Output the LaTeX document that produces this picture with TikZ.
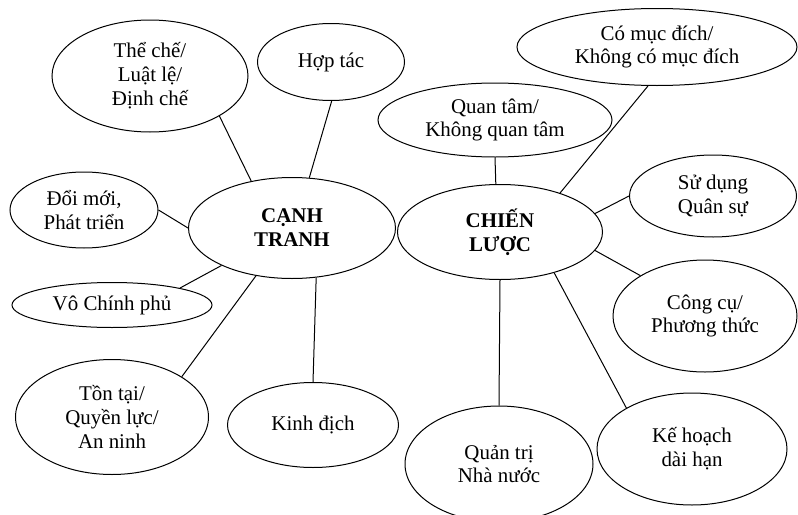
\documentclass[tikz,border=0pt]{standalone}
\usepackage{fontspec}
\setmainfont{Liberation Serif}
\usetikzlibrary{shapes.geometric}

\begin{document}
\begin{tikzpicture}[bubble/.style={draw,ellipse,inner sep=0pt,align=center,line width=1bp,font=\fontsize{21}{24}\selectfont},
  core/.style={bubble,font=\fontsize{21}{24}\selectfont\bfseries},
  link/.style={line width=1bp}]
\useasboundingbox (0bp,0bp) rectangle (798bp,-515bp);

\node (canh) at (292bp,-228bp)[core,minimum width=207bp,minimum height=101bp] {CẠNH\\TRANH};
\node (chien) at (500bp,-232bp)[core,minimum width=205bp,minimum height=95bp] {CHIẾN\\LƯỢC};

\node (theche) at (150bp,-76bp)[bubble,minimum width=196bp,minimum height=112bp] {Thể chế/\\Luật lệ/\\Định chế};
\node (hoptac) at (331bp,-62bp)[bubble,minimum width=147bp,minimum height=77bp] {Hợp tác};
\node (doimoi) at (84bp,-210bp)[bubble,minimum width=148bp,minimum height=76bp] {Đổi mới,\\Phát triển};
\node (vocp) at (112bp,-305bp)[bubble,minimum width=200bp,minimum height=45bp] {Vô Chính phủ};
\node (tontai) at (112bp,-417bp)[bubble,minimum width=193bp,minimum height=115bp] {Tồn tại/\\Quyền lực/\\An ninh};
\node (kinhdich) at (313bp,-425bp)[bubble,minimum width=171bp,minimum height=85bp] {Kinh địch};

\node (quantam) at (495bp,-120bp)[bubble,minimum width=234bp,minimum height=74bp] {Quan tâm/\\Không quan tâm};
\node (mucdich) at (657bp,-47bp)[bubble,minimum width=280bp,minimum height=77bp] {Có mục đích/\\Không có mục đích};
\node (sudung) at (713bp,-196bp)[bubble,minimum width=167bp,minimum height=82bp] {Sử dụng\\Quân sự};
\node (congcu) at (705bp,-316bp)[bubble,minimum width=184bp,minimum height=112bp] {Công cụ/\\Phương thức};
\node (kehoach) at (692bp,-449bp)[bubble,minimum width=190bp,minimum height=112bp] {Kế hoạch\\dài hạn};
\node (quantri) at (499bp,-464bp)[bubble,minimum width=188bp,minimum height=116bp] {Quản trị\\Nhà nước};

\draw [link] (theche.-30) to (canh.131);
\draw [link] (hoptac.-89) to (canh.71);
\draw [link] (doimoi.0) to (canh.180);
\draw [link] (vocp.14) to (canh.208);
\draw [link] (tontai.30) to (canh.233);
\draw [link] (kinhdich.90) to (canh.-64);

\draw [link] (quantam.-90) to (chien.95);
\draw [link] (mucdich.257) to (chien.33);
\draw [link] (sudung.180) to (chien.11);
\draw [link] (congcu.148) to (chien.-11);
\draw [link] (kehoach.148) to (chien.-37);
\draw [link] (quantri.90) to (chien.-90);
\end{tikzpicture}
\end{document}
